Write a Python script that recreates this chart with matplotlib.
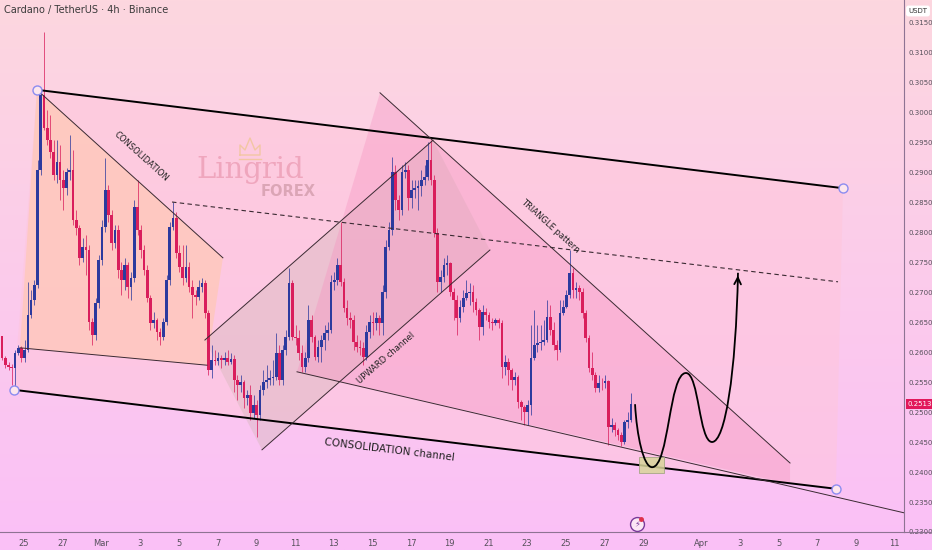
import numpy as np
import matplotlib.pyplot as plt
from matplotlib.patches import Polygon, Rectangle, PathPatch
from matplotlib.path import Path
from matplotlib.lines import Line2D
import matplotlib.transforms as mtransforms

# ADA/USDT 4h candles, time in days counted from 25 Feb
first_day = -1.3
first_open = 0.2624
closes = [0.2627, 0.2590, 0.2579, 0.2575, 0.2574, 0.2599, 0.2607, 0.2590, 0.2604, 0.2662,
          0.2687, 0.2712, 0.2904, 0.3029, 0.2974, 0.2954, 0.2934, 0.2895, 0.2917, 0.2887,
          0.2874, 0.2900, 0.2904, 0.2820, 0.2807, 0.2757, 0.2775, 0.2770, 0.2650, 0.2629,
          0.2682, 0.2754, 0.2809, 0.2870, 0.2829, 0.2782, 0.2804, 0.2737, 0.2720, 0.2745,
          0.2709, 0.2724, 0.2842, 0.2804, 0.2770, 0.2737, 0.2690, 0.2649, 0.2654, 0.2634,
          0.2625, 0.2650, 0.2720, 0.2809, 0.2824, 0.2765, 0.2742, 0.2724, 0.2742, 0.2709,
          0.2695, 0.2692, 0.2709, 0.2715, 0.2665, 0.2570, 0.2587, 0.2585, 0.2590, 0.2587,
          0.2590, 0.2584, 0.2588, 0.2554, 0.2545, 0.2550, 0.2524, 0.2529, 0.2499, 0.2512,
          0.2495, 0.2537, 0.2550, 0.2554, 0.2557, 0.2559, 0.2599, 0.2554, 0.2604, 0.2625,
          0.2715, 0.2625, 0.2624, 0.2599, 0.2575, 0.2590, 0.2654, 0.2625, 0.2592, 0.2609,
          0.2620, 0.2632, 0.2637, 0.2717, 0.2720, 0.2745, 0.2717, 0.2674, 0.2657, 0.2654,
          0.2617, 0.2609, 0.2607, 0.2592, 0.2634, 0.2650, 0.2649, 0.2657, 0.2649, 0.2700,
          0.2775, 0.2804, 0.2900, 0.2854, 0.2837, 0.2900, 0.2904, 0.2857, 0.2870, 0.2874,
          0.2877, 0.2887, 0.2892, 0.2920, 0.2887, 0.2799, 0.2717, 0.2725, 0.2745, 0.2749,
          0.2700, 0.2687, 0.2657, 0.2675, 0.2690, 0.2699, 0.2700, 0.2684, 0.2670, 0.2642,
          0.2667, 0.2662, 0.2650, 0.2649, 0.2654, 0.2649, 0.2575, 0.2584, 0.2570, 0.2554,
          0.2559, 0.2517, 0.2509, 0.2500, 0.2512, 0.2590, 0.2612, 0.2615, 0.2617, 0.2620,
          0.2659, 0.2637, 0.2612, 0.2604, 0.2665, 0.2675, 0.2695, 0.2732, 0.2704, 0.2707,
          0.2700, 0.2665, 0.2624, 0.2574, 0.2562, 0.2540, 0.2549, 0.2548, 0.2551, 0.2475,
          0.2479, 0.2470, 0.2462, 0.2450, 0.2484, 0.2487, 0.2513]
highs = [0.2650, 0.2627, 0.2594, 0.2584, 0.2580, 0.2604, 0.2612, 0.2610, 0.2620, 0.2717,
         0.2704, 0.2720, 0.2920, 0.3040, 0.3134, 0.3004, 0.2995, 0.2954, 0.2954, 0.2945,
         0.2904, 0.2907, 0.2962, 0.2937, 0.2837, 0.2812, 0.2790, 0.2795, 0.2779, 0.2657,
         0.2690, 0.2762, 0.2820, 0.2924, 0.2879, 0.2837, 0.2812, 0.2812, 0.2750, 0.2757,
         0.2750, 0.2734, 0.2854, 0.2887, 0.2812, 0.2779, 0.2745, 0.2695, 0.2667, 0.2657,
         0.2640, 0.2657, 0.2729, 0.2817, 0.2850, 0.2834, 0.2779, 0.2779, 0.2779, 0.2750,
         0.2720, 0.2704, 0.2720, 0.2724, 0.2720, 0.2670, 0.2612, 0.2604, 0.2600, 0.2595,
         0.2600, 0.2604, 0.2598, 0.2595, 0.2562, 0.2562, 0.2554, 0.2537, 0.2545, 0.2529,
         0.2520, 0.2545, 0.2570, 0.2579, 0.2570, 0.2587, 0.2632, 0.2612, 0.2612, 0.2637,
         0.2740, 0.2720, 0.2645, 0.2637, 0.2612, 0.2600, 0.2679, 0.2662, 0.2629, 0.2620,
         0.2629, 0.2645, 0.2650, 0.2729, 0.2734, 0.2757, 0.2817, 0.2724, 0.2687, 0.2667,
         0.2662, 0.2629, 0.2620, 0.2617, 0.2645, 0.2662, 0.2667, 0.2667, 0.2662, 0.2712,
         0.2787, 0.2817, 0.2925, 0.2912, 0.2862, 0.2912, 0.2917, 0.2912, 0.2887, 0.2887,
         0.2887, 0.2904, 0.2912, 0.2950, 0.2954, 0.2895, 0.2807, 0.2737, 0.2757, 0.2762,
         0.2750, 0.2707, 0.2695, 0.2687, 0.2704, 0.2720, 0.2715, 0.2712, 0.2690, 0.2674,
         0.2679, 0.2674, 0.2667, 0.2657, 0.2657, 0.2657, 0.2654, 0.2595, 0.2590, 0.2574,
         0.2567, 0.2562, 0.2520, 0.2512, 0.2520, 0.2645, 0.2670, 0.2645, 0.2645, 0.2654,
         0.2687, 0.2679, 0.2650, 0.2620, 0.2687, 0.2687, 0.2704, 0.2770, 0.2740, 0.2717,
         0.2712, 0.2707, 0.2670, 0.2629, 0.2600, 0.2567, 0.2562, 0.2557, 0.2562, 0.2554,
         0.2490, 0.2484, 0.2474, 0.2467, 0.2487, 0.2500, 0.2532]
lows = [0.2604, 0.2587, 0.2574, 0.2570, 0.2545, 0.2537, 0.2595, 0.2584, 0.2584, 0.2600,
        0.2657, 0.2679, 0.2707, 0.2895, 0.2970, 0.2945, 0.2924, 0.2887, 0.2882, 0.2854,
        0.2837, 0.2862, 0.2887, 0.2812, 0.2795, 0.2745, 0.2750, 0.2729, 0.2637, 0.2612,
        0.2620, 0.2674, 0.2745, 0.2800, 0.2817, 0.2770, 0.2774, 0.2724, 0.2695, 0.2704,
        0.2690, 0.2687, 0.2717, 0.2795, 0.2757, 0.2729, 0.2684, 0.2637, 0.2640, 0.2620,
        0.2612, 0.2620, 0.2645, 0.2712, 0.2804, 0.2757, 0.2734, 0.2712, 0.2717, 0.2700,
        0.2657, 0.2679, 0.2687, 0.2700, 0.2657, 0.2562, 0.2557, 0.2579, 0.2579, 0.2574,
        0.2579, 0.2579, 0.2580, 0.2534, 0.2520, 0.2534, 0.2507, 0.2512, 0.2487, 0.2490,
        0.2459, 0.2487, 0.2529, 0.2540, 0.2545, 0.2545, 0.2554, 0.2545, 0.2545, 0.2595,
        0.2620, 0.2620, 0.2612, 0.2587, 0.2567, 0.2567, 0.2584, 0.2617, 0.2587, 0.2584,
        0.2584, 0.2604, 0.2620, 0.2632, 0.2704, 0.2712, 0.2710, 0.2667, 0.2645, 0.2640,
        0.2604, 0.2600, 0.2595, 0.2579, 0.2587, 0.2624, 0.2629, 0.2637, 0.2629, 0.2629,
        0.2690, 0.2770, 0.2795, 0.2837, 0.2820, 0.2829, 0.2890, 0.2837, 0.2840, 0.2857,
        0.2837, 0.2860, 0.2879, 0.2887, 0.2879, 0.2792, 0.2700, 0.2700, 0.2717, 0.2729,
        0.2694, 0.2654, 0.2629, 0.2650, 0.2667, 0.2687, 0.2679, 0.2667, 0.2662, 0.2620,
        0.2629, 0.2654, 0.2640, 0.2637, 0.2645, 0.2640, 0.2557, 0.2562, 0.2545, 0.2537,
        0.2545, 0.2507, 0.2487, 0.2479, 0.2479, 0.2495, 0.2587, 0.2600, 0.2604, 0.2612,
        0.2617, 0.2629, 0.2604, 0.2587, 0.2600, 0.2662, 0.2674, 0.2690, 0.2690, 0.2690,
        0.2687, 0.2657, 0.2617, 0.2567, 0.2554, 0.2534, 0.2534, 0.2537, 0.2540, 0.2445,
        0.2467, 0.2460, 0.2454, 0.2444, 0.2447, 0.2474, 0.2484]
last_price = 0.2513

# axis ticks
tick_days = [0, 2, 4, 6, 8, 10, 12, 14, 16, 18, 20, 22, 24, 26, 28, 30, 32, 35, 37, 39, 41, 43, 45]
tick_labels = ['25', '27', 'Mar', '3', '5', '7', '9', '11', '13', '15', '17', '19', '21', '23',
               '25', '27', '29', 'Apr', '3', '5', '7', '9', '11']
price_ticks = np.arange(0.2300, 0.31501, 0.005)

# drawing anchors (day, price)
chan_top = [(0.67, 0.3037), (42.33, 0.2873)]
chan_bot = [(-0.52, 0.2537), (41.96, 0.2372)]
cons_top = [(0.67, 0.3037), (10.28, 0.2757)]
cons_bot = [(-0.21, 0.2607), (9.46, 0.2578)]
up_top = [(9.35, 0.2620), (21.14, 0.2953)]
up_bot = [(12.30, 0.2437), (24.08, 0.2770)]
tri_top = [(18.40, 0.3032), (39.59, 0.2415)]
tri_bot = [(14.11, 0.2567), (45.48, 0.2332)]
resist = [(7.65, 0.2850), (42.07, 0.2717)]
path_days = [31.58, 32.46, 34.21, 35.56, 36.90]
path_prices = [0.2513, 0.2408, 0.2565, 0.2450, 0.2732]
box_days = (31.78, 33.07)
box_prices = (0.2398, 0.2425)

opens = [first_open] + closes[:-1]
days = first_day + np.arange(len(closes)) / 6.0

fig = plt.figure(figsize=(9.32, 5.5), dpi=100)

# background gradient
bg = fig.add_axes([0, 0, 1, 1], zorder=-10)
top = np.array([253, 215, 223]) / 255
bot = np.array([250, 192, 247]) / 255
t = np.linspace(0, 1, 256)[:, None]
grad = top * (1 - t) + bot * t
bg.imshow(grad[:, None, :].repeat(2, axis=1), aspect='auto', extent=[0, 1, 0, 1])
bg.axis('off')

ax = fig.add_axes([0, 18 / 550, 904 / 932, 532 / 550])
ax.patch.set_alpha(0)
ax.set_xlim(-1.24, 45.48)
ax.set_ylim(0.2300, 0.31867)

# shaded pattern areas
ax.add_patch(Polygon([chan_bot[0], chan_top[0], chan_top[1], chan_bot[1]],
                     fc='#ffc6da', alpha=0.5, ec='none', zorder=1))
ax.add_patch(Polygon([cons_bot[0], cons_top[0], cons_top[1], cons_bot[1]],
                     fc='#ffc8a4', alpha=0.5, ec='none', zorder=1))
ax.add_patch(Polygon([up_top[0], up_top[1], up_bot[1], up_bot[0]],
                     fc='#d6b9bb', alpha=0.42, ec='none', zorder=1))
ax.add_patch(Polygon([tri_top[0], tri_top[1], (39.59, 0.2380), tri_bot[0]],
                     fc='#f590bf', alpha=0.35, ec='none', zorder=1))

# candles
up_col, dn_col = '#2c3a9e', '#d91e5c'
cols = [up_col if c >= o else dn_col for o, c in zip(opens, closes)]
ax.vlines(days, lows, highs, colors=cols, lw=0.7, alpha=0.75, zorder=3)
bodies = [max(abs(c - o), 0.00005) for o, c in zip(opens, closes)]
ax.bar(days, bodies, bottom=np.minimum(opens, closes), width=0.14, color=cols, zorder=4)

# lines
for seg in [chan_top, chan_bot]:
    ax.plot(*zip(*seg), color='black', lw=1.4, zorder=5)
for seg in [cons_top, cons_bot, up_top, up_bot, tri_top, tri_bot]:
    ax.plot(*zip(*seg), color='#3a2a32', lw=0.7, zorder=5)
ax.plot(*zip(*resist), color='#3a2a32', lw=0.8, ls=(0, (4, 3)), zorder=5)
for p in [chan_top[0], chan_top[1], chan_bot[0], chan_bot[1]]:
    ax.plot(*p, 'o', ms=6.5, mfc='#fde6ee', mec='#8c8cf0', mew=1.0, zorder=6)

# projected path
verts = [(path_days[0], path_prices[0])]
codes = [Path.MOVETO]
for i in range(len(path_days) - 1):
    x0, y0 = path_days[i], path_prices[i]
    x1, y1 = path_days[i + 1], path_prices[i + 1]
    dx, dy = x1 - x0, y1 - y0
    c1 = (x0 + 0.5 * dx, y0) if i > 0 else (x0 + 0.1 * dx, y0 + 0.5 * dy)
    c2 = (x1 - 0.5 * dx, y1) if i < len(path_days) - 2 else (x1 - 0.08 * dx, y1 - 0.6 * dy)
    verts += [c1, c2, (x1, y1)]
    codes += [Path.CURVE4] * 3
ax.add_patch(PathPatch(Path(verts, codes), fc='none', ec='black', lw=1.3, zorder=7))
ax.annotate('', xy=(path_days[-1], path_prices[-1]),
            xytext=(path_days[-1] - 0.02, path_prices[-1] - 0.002),
            arrowprops=dict(arrowstyle='->', lw=1.3, color='black', mutation_scale=12), zorder=7)
ax.add_patch(Rectangle((box_days[0], box_prices[0]), box_days[1] - box_days[0],
                       box_prices[1] - box_prices[0], fc='#d8d59a', ec='#9aa07a', lw=0.6,
                       alpha=0.85, zorder=6))

# labels on the drawings
ax.text(6.05, 0.2925, 'CONSOLIDATION', rotation=-42, ha='center', va='center',
        fontsize=6, color='#222222', rotation_mode='anchor', zorder=8)
ax.text(18.71, 0.2590, 'UPWARD channel', rotation=41, ha='center', va='center',
        fontsize=6, color='#222222', rotation_mode='anchor', zorder=8)
ax.text(27.18, 0.2810, 'TRIANGLE pattern', rotation=-42, ha='center', va='center',
        fontsize=6, color='#222222', rotation_mode='anchor', zorder=8)
ax.text(18.91, 0.2437, 'CONSOLIDATION channel', rotation=-6.9, ha='center', va='center',
        fontsize=7.5, color='#222222', rotation_mode='anchor', zorder=8)

# lightning icon
ax.plot(31.68, 0.2313, 'o', ms=10, mfc='#fbe7f5', mec='#7a3a9a', mew=1.0, zorder=8, clip_on=False)
ax.text(31.68, 0.2313, '⚡', ha='center', va='center', fontsize=6, color='#7a3a9a', zorder=9)
ax.plot(31.88, 0.2321, 'o', ms=2.5, color='#e0304a', zorder=9, clip_on=False)

# axes styling
ax.yaxis.tick_right()
ax.set_yticks(price_ticks)
ax.set_yticklabels([f'{p:.4f}' for p in price_ticks])
ax.set_xticks(tick_days)
ax.set_xticklabels(tick_labels)
ax.tick_params(axis='both', length=0, labelsize=5, colors='#55505a')
ax.tick_params(axis='y', pad=3.5)
ax.tick_params(axis='x', pad=5, labelsize=6)
for s in ['top', 'left']:
    ax.spines[s].set_visible(False)
for s in ['right', 'bottom']:
    ax.spines[s].set_color('#8e7393')
    ax.spines[s].set_linewidth(0.8)
fig.add_artist(Line2D([904 / 932, 1], [18 / 550, 18 / 550], color='#8e7393', lw=0.8))

# last price tag
trans = mtransforms.blended_transform_factory(ax.transAxes, ax.transData)
ax.text(1.004, last_price, f'{last_price:.4f}', transform=trans, ha='left', va='center',
        fontsize=5, color='white', zorder=10,
        bbox=dict(boxstyle='square,pad=0.28', fc='#e2185b', ec='none'))

# header, currency box, logo
fig.text(4 / 932, 1 - 10 / 550, 'Cardano / TetherUS · 4h · Binance', fontsize=7,
         color='#3a3a3a', ha='left', va='center')
fig.text(918 / 932, 1 - 11 / 550, 'USDT', fontsize=5, color='#333333', ha='center', va='center',
         bbox=dict(boxstyle='round,pad=0.35', fc='white', ec='none'))
fig.text(250 / 932, 1 - 170 / 550, 'Lingrid', fontsize=21, family='DejaVu Serif',
         color='#eea2ba', alpha=0.9, ha='center', va='center')
fig.text(288 / 932, 1 - 192 / 550, 'FOREX', fontsize=10.5, weight='bold',
         color='#d8a2b2', alpha=0.9, ha='center', va='center')
crown_x = [240, 240, 245, 250, 255, 260, 260, 240]
crown_y = [155, 145, 150, 138, 150, 145, 155, 155]
fig.add_artist(Line2D([x / 932 for x in crown_x], [1 - y / 550 for y in crown_y],
                      color='#f2c6a4', lw=1.0))
fig.add_artist(Line2D([239 / 932, 261 / 932], [1 - 159 / 550, 1 - 159 / 550],
                      color='#f2c6a4', lw=1.0))

fig.savefig('out.png', dpi=100)
